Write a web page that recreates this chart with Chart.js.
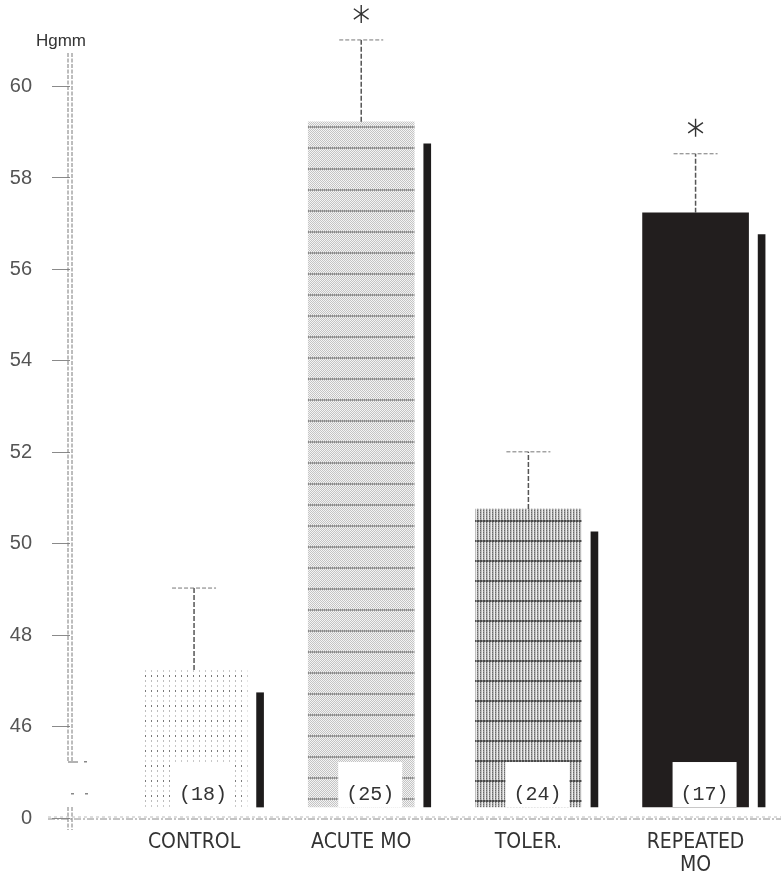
<!DOCTYPE html>
<html>
<head>
<meta charset="utf-8">
<script src="https://cdn.jsdelivr.net/npm/chart.js@4/dist/chart.umd.min.js"></script>
<style>
  html, body { margin: 0; padding: 0; background: #fff; overflow: hidden; }
  #wrap { width: 781px; height: 875px; }
</style>
</head>
<body>
<div id="wrap"><canvas id="chart" width="781" height="875"></canvas></div>
<script>
// Blood pressure (Hgmm) per treatment group, mean with SEM, group size n
const groups = ['CONTROL', 'ACUTE MO', 'TOLER.', ['REPEATED', 'MO']];
const meanPressure = [47.24, 59.23, 50.76, 57.24];
const semTop = [49.03, 61.02, 52.01, 58.53];
const companionValue = [46.74, 58.75, 50.26, 56.76];
const groupSize = [18, 25, 24, 17];
const significant = [false, true, false, true];
const barFloor = 44.24;
const yTickValues = [44, 46, 48, 50, 52, 54, 56, 58, 60];
const yTickLabels = ['0', '46', '48', '50', '52', '54', '56', '58', '60'];

// fill textures for the four groups
const probe = document.createElement('canvas').getContext('2d');
function pat(w, h, paint) {
  const c = document.createElement('canvas');
  c.width = w; c.height = h;
  const g = c.getContext('2d');
  g.fillStyle = '#ffffff';
  g.fillRect(0, 0, w, h);
  paint(g);
  return probe.createPattern(c, 'repeat');
}
const controlFill = pat(6, 15, g => {
  g.fillStyle = '#7a7a7a'; g.fillRect(1, 0, 1, 2);
  g.fillStyle = '#bdbdbd'; g.fillRect(1, 5, 1, 2);
  g.fillStyle = '#c8c8c8'; g.fillRect(1, 10, 1, 2);
});
const acuteFill = pat(4, 21, g => {
  for (let y = 0; y < 21; y++) {
    for (let x = 0; x < 4; x++) {
      if (y < 2) g.fillStyle = (x % 2 === 0) ? '#8a8a8a' : '#b4b4b4';
      else g.fillStyle = ((x + y) % 2 === 0) ? '#c4c4c4' : '#f4f4f4';
      g.fillRect(x, y, 1, 1);
    }
  }
});
const tolerFill = pat(3, 20, g => {
  for (let y = 0; y < 20; y++) {
    for (let x = 0; x < 3; x++) {
      if (y < 2) g.fillStyle = (x === 2) ? '#8a8a8a' : '#4a4a4a';
      else if (x === 0) g.fillStyle = (y % 2 === 0) ? '#6a6a6a' : '#9a9a9a';
      else if (x === 1) g.fillStyle = '#bdbdbd';
      else g.fillStyle = '#ededed';
      g.fillRect(x, y, 1, 1);
    }
  }
});
const groupFills = [controlFill, acuteFill, tolerFill, '#221e1e'];

const companionOffset = 0.395;   // thin bar sits to the right of each main bar

const decorations = {
  id: 'decorations',
  afterDatasetsDraw(chart) {
    const ctx = chart.ctx;
    const xs = chart.scales.x, ys = chart.scales.y;
    const area = chart.chartArea;
    ctx.save();

    // count boxes at the foot of each main bar
    groups.forEach((_, i) => {
      const cx = xs.getPixelForValue(i) + 9;
      const bottom = ys.getPixelForValue(barFloor);
      ctx.fillStyle = '#ffffff';
      ctx.fillRect(cx - 32, bottom - 45, 64, 45);
      ctx.fillStyle = '#333333';
      ctx.font = '20px "Liberation Mono", "DejaVu Sans Mono", monospace';
      ctx.textAlign = 'center';
      ctx.textBaseline = 'alphabetic';
      ctx.fillText('(' + groupSize[i] + ')', cx, bottom - 7);
    });

    // SEM whiskers
    groups.forEach((_, i) => {
      const cx = xs.getPixelForValue(i);
      const y0 = ys.getPixelForValue(meanPressure[i]);
      const y1 = ys.getPixelForValue(semTop[i]);
      ctx.strokeStyle = '#555555';
      ctx.lineWidth = 1.5;
      ctx.setLineDash([5, 2]);
      ctx.beginPath();
      ctx.moveTo(cx, y0);
      ctx.lineTo(cx, y1);
      ctx.stroke();
      ctx.lineWidth = 1;
      ctx.strokeStyle = '#777777';
      ctx.setLineDash([4, 2]);
      ctx.beginPath();
      ctx.moveTo(cx - 22, y1);
      ctx.lineTo(cx + 22, y1);
      ctx.stroke();
      ctx.setLineDash([]);

      if (significant[i]) {
        const sy = y1 - 26, r = 9;
        ctx.strokeStyle = '#333333';
        ctx.lineWidth = 1.4;
        ctx.beginPath();
        [90, 35, 145].forEach(a => {
          const rad = a * Math.PI / 180;
          ctx.moveTo(cx - r * Math.cos(rad), sy - r * Math.sin(rad));
          ctx.lineTo(cx + r * Math.cos(rad), sy + r * Math.sin(rad));
        });
        ctx.stroke();
      }
    });

    // broken value axis drawn as a double line
    const axisX = area.left;
    const yBase = ys.getPixelForValue(yTickValues[0]);
    const yTop = area.top + 35;
    const breakTop = yBase - 56;
    const breakBottom = yBase - 11;
    ctx.strokeStyle = '#7a7a7a';
    ctx.lineWidth = 1;
    ctx.setLineDash([4, 1.5]);
    [axisX - 2, axisX + 2].forEach(x => {
      ctx.beginPath();
      ctx.moveTo(x, yTop);
      ctx.lineTo(x, breakTop);
      ctx.moveTo(x, breakBottom);
      ctx.lineTo(x, yBase + 12);
      ctx.stroke();
    });
    ctx.setLineDash([]);
    ctx.strokeStyle = '#666666';
    ctx.beginPath();
    ctx.moveTo(axisX - 2, breakTop);
    ctx.lineTo(axisX + 8, breakTop);
    ctx.stroke();
    ctx.fillStyle = '#888888';
    ctx.fillRect(axisX + 14, breakTop - 1, 3, 1.5);
    ctx.fillRect(axisX + 1, yBase - 25, 3, 1.5);
    ctx.fillRect(axisX + 15, yBase - 25, 3, 1.5);

    // baseline
    ctx.strokeStyle = '#8a8a8a';
    ctx.lineWidth = 1;
    ctx.setLineDash([7, 2, 2, 2]);
    ctx.beginPath();
    ctx.moveTo(area.left - 22, yBase + 1);
    ctx.lineTo(area.right, yBase + 1);
    ctx.stroke();
    ctx.strokeStyle = '#bbbbbb';
    ctx.setLineDash([3, 3]);
    ctx.beginPath();
    ctx.moveTo(area.left - 22, yBase - 1);
    ctx.lineTo(area.right, yBase - 1);
    ctx.stroke();
    ctx.setLineDash([]);

    // unit label
    ctx.fillStyle = '#333333';
    ctx.font = '17px "Liberation Sans", Arial, sans-serif';
    ctx.textAlign = 'center';
    ctx.textBaseline = 'alphabetic';
    ctx.fillText('Hgmm', axisX - 9, 46);

    ctx.restore();
  }
};

new Chart(document.getElementById('chart'), {
  type: 'bar',
  data: {
    datasets: [
      {
        label: 'mean',
        data: meanPressure.map((v, i) => ({ x: i, y: [barFloor, v] })),
        backgroundColor: groupFills,
        barThickness: 106,
        grouped: false,
        borderWidth: 0
      },
      {
        label: 'companion',
        data: companionValue.map((v, i) => ({ x: i + companionOffset, y: [barFloor, v] })),
        backgroundColor: '#1e1c1c',
        barThickness: 7,
        grouped: false,
        borderWidth: 0
      }
    ]
  },
  options: {
    responsive: false,
    devicePixelRatio: 1,
    animation: false,
    layout: { padding: { top: 18, right: 0, bottom: 0, left: 0 } },
    plugins: { legend: { display: false }, tooltip: { enabled: false } },
    scales: {
      x: {
        type: 'linear',
        offset: false,
        min: -0.742,
        max: 3.511,
        grid: { display: false },
        border: { display: false },
        afterBuildTicks: s => { s.ticks = groups.map((_, i) => ({ value: i })); },
        afterFit: s => { s.height = 57; s.paddingLeft = 0; s.paddingRight = 0; },
        ticks: {
          autoSkip: false,
          maxRotation: 0,
          padding: 5,
          color: '#333333',
          font: { family: '"DejaVu Sans Condensed", "Liberation Sans", sans-serif', size: 21, lineHeight: 1.1 },
          callback: v => groups[v]
        }
      },
      y: {
        min: 44,
        max: 61.5,
        border: { display: false },
        grid: { drawOnChartArea: false, drawTicks: true, tickLength: 18, color: '#8a8a8a' },
        afterBuildTicks: s => { s.ticks = yTickValues.map(v => ({ value: v })); },
        afterFit: s => { s.width = 70; s.paddingTop = 0; s.paddingBottom = 0; },
        ticks: {
          padding: 20,
          color: '#555555',
          font: { family: '"Liberation Sans", Arial, sans-serif', size: 20 },
          callback: v => yTickLabels[yTickValues.indexOf(v)]
        }
      }
    }
  },
  plugins: [decorations]
});
</script>
</body>
</html>
